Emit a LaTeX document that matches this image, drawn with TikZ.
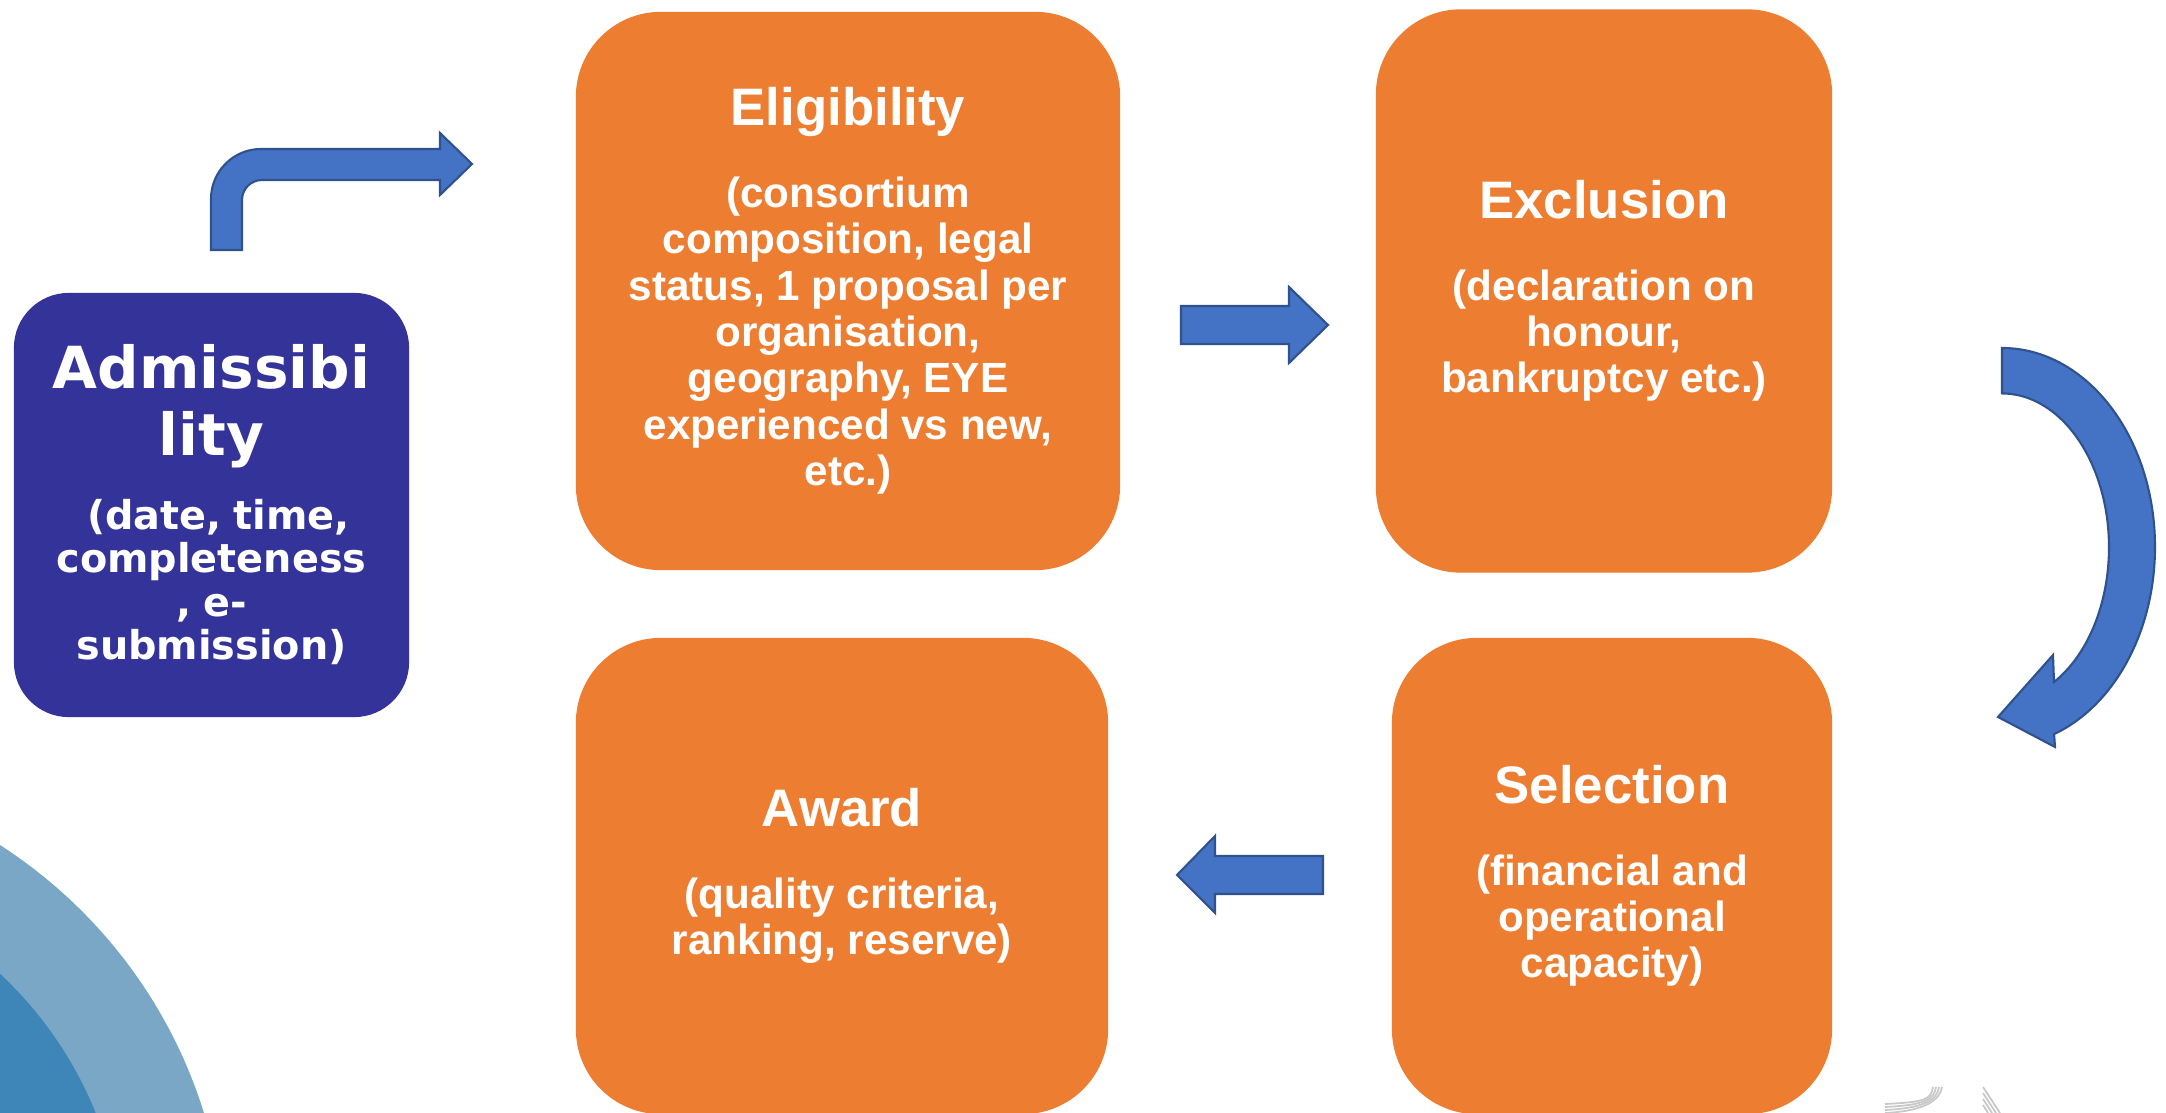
\documentclass[tikz,border=0pt]{standalone}
\usepackage{fontspec}
\setmainfont{Liberation Sans}
\newfontfamily\admfont{DejaVu Sans}

\definecolor{stageorange}{HTML}{ED7D31}
\definecolor{admblue}{HTML}{333399}
\definecolor{arrowblue}{HTML}{4472C4}
\definecolor{arrowedge}{HTML}{2F528F}
\definecolor{ringlight}{HTML}{7BA7C6}
\definecolor{ringdark}{HTML}{3E86B7}
\definecolor{logogray}{HTML}{C8C8C8}

\newcommand{\stagetitle}[1]{{\fontsize{15}{18}\selectfont #1\par}\vspace{10pt}\fontsize{12}{13.2}\selectfont}
\newcommand{\admtitle}[1]{{\fontsize{16.5}{19}\selectfont #1\par}\vspace{8.5pt}\fontsize{11.3}{12.4}\selectfont}

\tikzset{
  stage/.style={fill=stageorange, rounded corners=0.85cm, text=white, align=center,
    inner sep=0pt, font=\bfseries},
  admbox/.style={fill=admblue, rounded corners=0.55cm, text=white, align=center,
    inner sep=0pt, font=\admfont\bfseries, text width=3.7cm,
    minimum width=3.95cm, minimum height=4.24cm},
  blockarrow/.style={fill=arrowblue, draw=arrowedge, line width=0.6pt, line join=miter},
}

\begin{document}
\begin{tikzpicture}[x=0.01cm, y=-0.01cm]
  \useasboundingbox (0,0) rectangle (2166,1113);

  % rings in the lower left corner
  \begin{scope}
    \clip (0,0) rectangle (2166,1113);
    \fill[ringlight] (-266,1259) circle[radius=492];
    \fill[ringdark] (-266,1259) circle[radius=390];
  \end{scope}

  % stages
  \node[admbox] (adm) at (211.5,505)
    {\admtitle{Admissibi\\lity}\hspace*{.35em}(date, time,\\completeness\\, e-\\submission)\par};
  \node[stage, text width=5.1cm, minimum width=5.44cm, minimum height=5.58cm] (elig) at (848,291)
    {\stagetitle{Eligibility}(consortium\\composition, legal\\status, 1 proposal per\\organisation,\\geography, EYE\\experienced vs new,\\etc.)\par};
  \node[stage, text width=4.3cm, minimum width=4.56cm, minimum height=5.63cm] (excl) at (1604,291)
    {\stagetitle{Exclusion}(declaration on\\honour,\\bankruptcy etc.)\par};
  \node[stage, text width=4.1cm, minimum width=4.40cm, minimum height=4.76cm] (sel) at (1612,876)
    {\stagetitle{Selection}(financial and\\operational\\capacity)\par};
  \node[stage, text width=5.0cm, minimum width=5.32cm, minimum height=4.76cm] (award) at (842,876)
    {\stagetitle{Award}(quality criteria,\\ranking, reserve)\par};

  % arrows between the stages
  \draw[blockarrow] (211,250) -- (211,199) arc[start angle=180, end angle=270, radius=50]
    -- (440,149) -- (440,133) -- (472,164) -- (440,195) -- (440,180) -- (262,180)
    arc[start angle=270, end angle=180, radius=20] -- (242,250) -- cycle;
  \draw[blockarrow] (1181,306) -- (1289,306) -- (1289,287) -- (1328,325)
    -- (1289,363) -- (1289,344) -- (1181,344) -- cycle;
  \draw[blockarrow] (2002,348) arc[start angle=270, end angle=430.1, x radius=153, y radius=199]
    -- (2055,747) -- (1998,717) -- (2053,655) -- (2054,682)
    arc[start angle=420.9, end angle=270, x radius=107, y radius=154] -- cycle;
  \draw[blockarrow] (1323,856) -- (1215,856) -- (1215,836) -- (1177,875)
    -- (1215,913) -- (1215,894) -- (1323,894) -- cycle;

  % logo fragment, lower right
  \foreach \k in {0,1,2,3}
    \draw[logogray, line width=0.5pt] (1885,{1113-3*\k}) .. controls (1925,{1111-3*\k}) and ({1940-3*\k},1100) .. ({1942-3*\k},1087);
  \foreach \k in {0,1,2,3}
    \draw[logogray, line width=0.5pt] (1983,{1087+6*\k}) -- ({2000-4*\k},1113);
\end{tikzpicture}
\end{document}
